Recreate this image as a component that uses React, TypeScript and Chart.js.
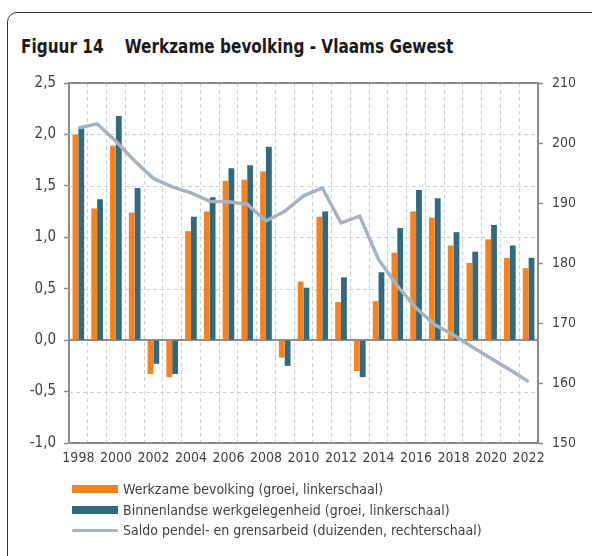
import React, { useEffect, useRef } from "react";
import { Chart, registerables } from "chart.js";

Chart.register(...registerables);

const years = ["1998","1999","2000","2001","2002","2003","2004","2005","2006","2007","2008","2009","2010","2011","2012","2013","2014","2015","2016","2017","2018","2019","2020","2021","2022"];
const werkzameBevolking = [2.0,1.28,1.89,1.24,-0.33,-0.36,1.06,1.25,1.55,1.56,1.64,-0.17,0.57,1.2,0.37,-0.3,0.38,0.85,1.25,1.19,0.92,0.75,0.98,0.8,0.7];
const binnenlandseWerkgelegenheid = [2.06,1.37,2.18,1.48,-0.23,-0.33,1.2,1.39,1.67,1.7,1.88,-0.25,0.51,1.25,0.61,-0.36,0.66,1.09,1.46,1.38,1.05,0.86,1.12,0.92,0.8];
const saldoPendel = [202.5,203.2,200.3,197.0,194.1,192.7,191.7,190.3,190.2,189.8,187.0,188.6,191.2,192.5,186.7,187.8,180.6,176.2,172.5,169.7,168.0,166.0,164.1,162.2,160.2];
const leftTicks = { min: -1, max: 2.5, step: 0.5 };
const rightTicks = { min: 150, max: 210, step: 10 };
const labels = [
  "Werkzame bevolking (groei, linkerschaal)",
  "Binnenlandse werkgelegenheid (groei, linkerschaal)",
  "Saldo pendel- en grensarbeid (duizenden, rechterschaal)",
];

const ORANGE = "#F58220";
const TEAL = "#2F6A7F";
const GREYLINE = "#A7B2C0";
const AXIS = "#8C8C8C";
const GRID = "#CFCFCF";
const TEXT = "#404040";
const FONT = "'DejaVu Sans Condensed', 'DejaVu Sans', sans-serif";

const fmt = (v: number) => v.toFixed(1).replace(".", ",");

const gridLines = {
  id: "gridLines",
  beforeDatasetsDraw(chart: any) {
    const { ctx, chartArea, scales } = chart;
    const y = scales.y;
    ctx.save();
    y.ticks.forEach((t: any) => {
      const v = t.value;
      const solid = v === 0 || v === leftTicks.max;
      if (v === leftTicks.min) return;
      const py = solid ? Math.round(y.getPixelForValue(v)) : Math.round(y.getPixelForValue(v)) + 0.5;
      ctx.strokeStyle = solid ? AXIS : GRID;
      ctx.lineWidth = solid ? 2 : 1;
      ctx.setLineDash(solid ? [] : [4, 3]);
      ctx.beginPath();
      ctx.moveTo(chartArea.left, py);
      ctx.lineTo(chartArea.right, py);
      ctx.stroke();
    });
    ctx.restore();
  },
};

export default function App() {
  const ref = useRef<HTMLCanvasElement | null>(null);
  useEffect(() => {
    if (!ref.current) return;
    const chart = new Chart(ref.current, {
      type: "bar",
      data: {
        labels: years,
        datasets: [
          {
            type: "line",
            label: labels[2],
            data: saldoPendel,
            yAxisID: "y1",
            borderColor: GREYLINE,
            backgroundColor: GREYLINE,
            borderWidth: 3.5,
            pointRadius: 0,
            tension: 0,
            order: 0,
          } as any,
          {
            label: labels[0],
            data: werkzameBevolking,
            yAxisID: "y",
            backgroundColor: ORANGE,
            categoryPercentage: 0.62,
            barPercentage: 1,
            order: 1,
          },
          {
            label: labels[1],
            data: binnenlandseWerkgelegenheid,
            yAxisID: "y",
            backgroundColor: TEAL,
            categoryPercentage: 0.62,
            barPercentage: 1,
            order: 1,
          },
        ],
      },
      plugins: [gridLines],
      options: {
        animation: false,
        responsive: false,
        maintainAspectRatio: false,
        layout: { padding: { top: 83, bottom: 93, left: 0, right: 0 } },
        plugins: { legend: { display: false }, tooltip: { enabled: false } },
        scales: {
          x: {
            afterFit: (s: any) => { s.height = 20; },
            grid: { offset: true, color: GRID, lineWidth: 1, drawTicks: false },
            border: { color: AXIS, width: 2, dash: [4, 3] },
            ticks: {
              autoSkip: false,
              maxRotation: 0,
              padding: 7,
              color: TEXT,
              font: { family: FONT, size: 14 },
              callback: (_v: any, i: number) => (i % 2 === 0 ? years[i] : ""),
            },
          },
          y: {
            position: "left",
            min: leftTicks.min,
            max: leftTicks.max,
            afterFit: (s: any) => { s.width = 69; },
            grid: {
              drawOnChartArea: false,
              drawTicks: true,
              tickLength: 5,
              tickColor: AXIS,
              tickWidth: 1.5,
            },
            border: { color: AXIS, width: 2 },
            ticks: {
              stepSize: leftTicks.step,
              padding: 8,
              color: TEXT,
              font: { family: FONT, size: 15 },
              callback: (v: any) => fmt(Number(v)),
            },
          },
          y1: {
            position: "right",
            min: rightTicks.min,
            max: rightTicks.max,
            afterFit: (s: any) => { s.width = 54; },
            grid: { drawOnChartArea: false, drawTicks: true, tickLength: 5, tickColor: AXIS, tickWidth: 1.5 },
            border: { color: AXIS, width: 2 },
            ticks: {
              stepSize: rightTicks.step,
              padding: 9,
              color: TEXT,
              font: { family: FONT, size: 14 },
            },
          },
        },
      },
    });
    return () => chart.destroy();
  }, []);

  const legendRow = (i: number, swatch: React.ReactNode) => (
    <div key={i} style={{ display: "flex", alignItems: "center", height: 20.5 }}>
      <div style={{ width: 46, display: "flex", alignItems: "center", marginRight: 5 }}>{swatch}</div>
      <span>{labels[i]}</span>
    </div>
  );

  return (
    <div style={{ position: "fixed", left: 0, top: 0, width: 592, height: 556, overflow: "hidden", background: "#fff" }}>
      <div
        style={{
          position: "absolute",
          left: 7,
          top: 12,
          width: 620,
          height: 600,
          border: "1.5px solid #333",
          borderRadius: 10,
          boxSizing: "border-box",
        }}
      />
      <div
        style={{
          position: "absolute",
          left: 21,
          top: 35,
          fontFamily: FONT,
          fontWeight: "bold",
          fontSize: 17,
          color: "#1a1a1a",
          whiteSpace: "pre",
          transform: "scaleY(1.12)",
          transformOrigin: "left top",
        }}
      >
        {"Figuur 14    Werkzame bevolking - Vlaams Gewest"}
      </div>
      <canvas ref={ref} width={592} height={556} style={{ position: "absolute", left: 0, top: 0, width: 592, height: 556 }} />
      <div
        style={{
          position: "absolute",
          left: 72,
          top: 479,
          fontFamily: FONT,
          fontSize: 14,
          color: TEXT,
        }}
      >
        {legendRow(0, <div style={{ width: 46, height: 8, background: ORANGE }} />)}
        {legendRow(1, <div style={{ width: 46, height: 8, background: TEAL }} />)}
        {legendRow(2, <div style={{ width: 46, height: 3.5, background: GREYLINE, borderRadius: 2 }} />)}
      </div>
    </div>
  );
}
